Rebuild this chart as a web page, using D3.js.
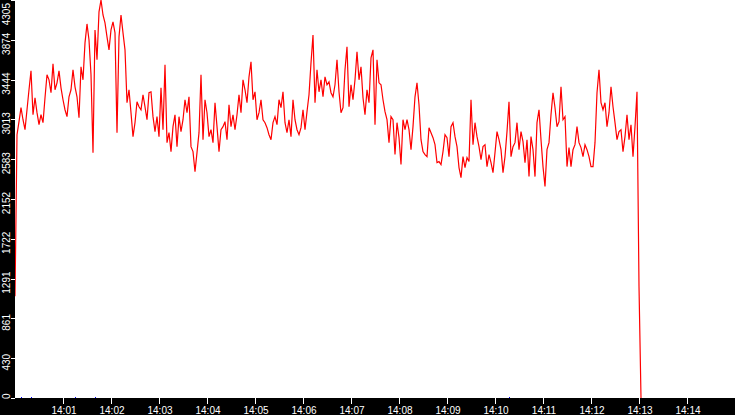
<!DOCTYPE html>
<html>
<head>
<meta charset="utf-8">
<script src="https://cdn.jsdelivr.net/npm/d3@7"></script>
<style>
  body { margin: 0; background: #fff; }
  text { font-family: "Liberation Sans", Arial, sans-serif; font-size: 10px; fill: #fff; }
</style>
</head>
<body>
<svg id="chart" width="735" height="415"></svg>
<script>
// samples every 2.5 s starting 14:00:00
const startTime = '14:00:00';
const stepSeconds = 2.5;
const values = [
  1100, 2848, 2989, 3140, 3010, 2902, 3118, 3334, 3539, 3064,
  3248, 3086, 2956, 3064, 2978, 3248, 3496, 3442, 3302, 3614,
  3334, 3409, 3539, 3355, 3226, 3118, 3043, 3258, 3334, 3550,
  3366, 3258, 3032, 3582, 3442, 3841, 4046, 3873, 3496, 2654,
  3981, 3658, 4176, 4305, 4143, 4057, 3906, 3766, 3981, 4068,
  3949, 2870, 3906, 4143, 3949, 3766, 3194, 3334, 3086, 2827,
  2978, 3204, 3150, 3118, 3280, 3150, 3010, 3302, 3312, 3043,
  2881, 3043, 2827, 3355, 2902, 3604, 2762, 2870, 2665, 2935,
  3064, 2719, 3043, 2881, 3010, 3226, 3086, 3258, 2719, 2665,
  2449, 2654, 2870, 3496, 2794, 3226, 3086, 2827, 2902, 2762,
  3194, 2935, 2665, 2902, 2935, 2989, 2794, 3172, 2935, 3064,
  2902, 3064, 3280, 3086, 3442, 3334, 3194, 3474, 3636, 3226,
  3312, 3010, 3086, 3226, 3010, 2978, 2924, 2848, 2794, 2978,
  3043, 2956, 3226, 3140, 3312, 2978, 2870, 3010, 2827, 3226,
  3010, 2902, 2848, 2924, 3118, 2902, 3097, 3280, 3625, 3927,
  3194, 3550, 3312, 3442, 3258, 3474, 3388, 3420, 3302, 3258,
  3388, 3658, 3312, 3086, 3140, 3550, 3798, 3150, 3388, 3226,
  3442, 3744, 3442, 3582, 3248, 3064, 3334, 3194, 3679, 3766,
  2956, 3658, 3409, 3388, 3226, 3097, 3010, 2762, 3043, 3010,
  2633, 2978, 2816, 2525, 3010, 2902, 3010, 2902, 2686, 2935,
  3258, 3409, 3172, 2794, 2665, 2633, 2611, 2924, 2870, 2816,
  2740, 2546, 2557, 2525, 2665, 2848, 2816, 2611, 2935, 2978,
  2827, 2719, 2492, 2384, 2611, 2492, 2600, 2557, 3226, 2740,
  2978, 2827, 2719, 2579, 2719, 2740, 2503, 2633, 2546, 2438,
  2654, 2881, 2794, 2686, 2438, 2611, 2881, 3204, 2611, 2719,
  2762, 2978, 2686, 2881, 2773, 2546, 2794, 2395, 2827, 2686,
  2395, 2978, 3118, 2794, 2503, 2287, 2686, 2762, 3064, 3302,
  3140, 2935, 2989, 3366, 3010, 3043, 2503, 2708, 2503, 2686,
  2740, 2935, 2762, 2708, 2611, 2740, 2686, 2611, 2503, 2503,
  2762, 3302, 3550, 3194, 3118, 3194, 2935, 3086, 3366, 3150,
  2978, 2794, 2881, 2902, 2665, 2827, 3064, 2794, 2956, 2611,
  2935, 3312, 1208, 0
];
const markerTimes = ['14:00:07', '14:00:20', '14:01:15', '14:01:40', '14:10:18'];
const xTickLabels = ['14:01', '14:02', '14:03', '14:04', '14:05', '14:06', '14:07',
  '14:08', '14:09', '14:10', '14:11', '14:12', '14:13', '14:14'];
const yTickLabels = ['0', '430', '861', '1291', '1722', '2152', '2583', '3013', '3444', '3874', '4305'];
const yMax = 4305;

const W = 735, H = 415, left = 15, bottom = 398;
const parse = d3.timeParse('%H:%M:%S');
const t0 = parse(startTime);

const x = d3
  .scaleTime()
  .domain([t0, d3.timeMinute.offset(t0, 15)])
  .range([left, W]);

const y = d3
  .scaleLinear()
  .domain([0, yMax])
  .range([bottom, 0]);

const data = values.map((v, i) => ({ t: new Date(+t0 + i * stepSeconds * 1000), v }));

const svg = d3.select('#chart');

svg.append('rect').attr('width', W).attr('height', H).attr('fill', '#fff');

svg
  .append('path')
  .datum(data)
  .attr('fill', 'none')
  .attr('stroke', '#ff0000')
  .attr('stroke-width', 1.2)
  .attr('d', d3.line().x(d => x(d.t)).y(d => y(d.v)));

// little blue event marks on the floor
svg
  .selectAll('rect.mark')
  .data(markerTimes.map(s => parse(s)))
  .join('rect')
  .attr('class', 'mark')
  .attr('x', d => Math.round(x(d)))
  .attr('y', bottom - 1)
  .attr('width', 1)
  .attr('height', 1.5)
  .attr('fill', '#0000ff');

// black frame strips
svg.append('rect').attr('x', 0).attr('y', 0).attr('width', left).attr('height', H).attr('fill', '#000');
svg.append('rect').attr('x', 0).attr('y', bottom).attr('width', W).attr('height', H - bottom).attr('fill', '#000');

// x axis
const xTicks = xTickLabels.map(s => parse(s + ':00'));
const xg = svg.append('g');
xg.selectAll('line')
  .data(xTicks)
  .join('line')
  .attr('x1', d => Math.round(x(d)) + 0.5)
  .attr('x2', d => Math.round(x(d)) + 0.5)
  .attr('y1', bottom)
  .attr('y2', bottom + 6)
  .attr('stroke', '#fff');
xg.selectAll('text')
  .data(xTicks)
  .join('text')
  .attr('x', d => x(d) + 1)
  .attr('y', 414)
  .attr('text-anchor', 'middle')
  .text(d => d3.timeFormat('%H:%M')(d));

// y axis
const yg = svg.append('g');
yg.selectAll('line')
  .data(yTickLabels)
  .join('line')
  .attr('x1', 11)
  .attr('x2', left)
  .attr('y1', (_, i) => Math.round(y(i * yMax / 10)) + 0.5)
  .attr('y2', (_, i) => Math.round(y(i * yMax / 10)) + 0.5)
  .attr('stroke', '#fff');
yg.selectAll('text')
  .data(yTickLabels)
  .join('text')
  .attr('text-anchor', 'middle')
  .text(d => d)
  .attr('transform', function (_, i) {
    const half = this.getComputedTextLength() / 2;
    let cy = y(i * yMax / 10) + 4;
    cy = Math.max(3 + half, Math.min(bottom + 1 - half, cy));
    return `translate(9.5,${cy}) rotate(-90)`;
  });
</script>
</body>
</html>
